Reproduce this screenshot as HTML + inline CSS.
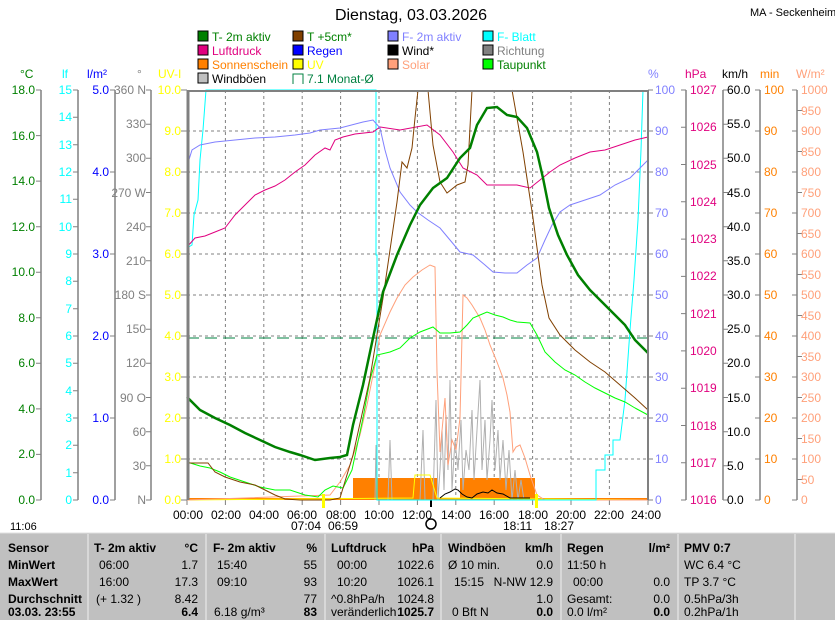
<!DOCTYPE html>
<html><head><meta charset="utf-8"><style>
body{margin:0;background:#fff;width:835px;height:620px;overflow:hidden;font-family:"Liberation Sans",sans-serif}
svg text{font-family:"Liberation Sans",sans-serif;font-size:12px}
</style></head><body>
<svg width="835" height="620" viewBox="0 0 835 620" xmlns="http://www.w3.org/2000/svg">
<rect width="835" height="620" fill="#fff"/>
<text x="411" y="20" font-size="16" text-anchor="middle" style="font-size:16px">Dienstag, 03.03.2026</text>
<text x="750" y="16" style="font-size:11px">MA - Seckenheim</text>
<!-- legend -->
<g style="font-size:12px">
<rect x="198" y="31" width="10" height="10" fill="#008000" stroke="#000"/><text x="212" y="41" fill="#008000">T- 2m aktiv</text>
<rect x="198" y="45" width="10" height="10" fill="#e0007f" stroke="#000"/><text x="212" y="55" fill="#e0007f">Luftdruck</text>
<rect x="198" y="59" width="10" height="10" fill="#ff8000" stroke="#000"/><text x="212" y="69" fill="#ff8000">Sonnenschein</text>
<rect x="198" y="73" width="10" height="10" fill="#c0c0c0" stroke="#000"/><text x="212" y="83" fill="#000">Windböen</text>
<rect x="293" y="31" width="10" height="10" fill="#804000" stroke="#000"/><text x="307" y="41" fill="#008000">T +5cm*</text>
<rect x="293" y="45" width="10" height="10" fill="#0000ff" stroke="#000"/><text x="307" y="55" fill="#0000ff">Regen</text>
<rect x="293" y="59" width="10" height="10" fill="#ffff00" stroke="#000"/><text x="307" y="69" fill="#ffff00">UV</text>
<path d="M293 84V74H303V84" fill="none" stroke="#008040"/><text x="307" y="83" fill="#008040">7.1 Monat-Ø</text>
<rect x="388" y="31" width="10" height="10" fill="#8080ff" stroke="#000"/><text x="402" y="41" fill="#8080ff">F- 2m aktiv</text>
<rect x="388" y="45" width="10" height="10" fill="#000" stroke="#000"/><text x="402" y="55" fill="#000">Wind*</text>
<rect x="388" y="59" width="10" height="10" fill="#ffa07a" stroke="#000"/><text x="402" y="69" fill="#ffa07a">Solar</text>
<rect x="483" y="31" width="10" height="10" fill="#00ffff" stroke="#000"/><text x="497" y="41" fill="#00ffff">F- Blatt</text>
<rect x="483" y="45" width="10" height="10" fill="#808080" stroke="#000"/><text x="497" y="55" fill="#808080">Richtung</text>
<rect x="483" y="59" width="10" height="10" fill="#00ff00" stroke="#000"/><text x="497" y="69" fill="#008000">Taupunkt</text>
</g>
<!-- units -->
<g style="font-size:11px">
<text x="20" y="78" fill="#008000">°C</text><text x="62" y="78" fill="#00ffff">lf</text><text x="87" y="78" fill="#0000ff">l/m²</text>
<text x="137" y="78" fill="#808080">°</text><text x="158" y="78" fill="#ffff00">UV-I</text>
<text x="648" y="78" fill="#8080ff">%</text><text x="685" y="78" fill="#e0007f">hPa</text><text x="722" y="78" fill="#000">km/h</text>
<text x="760" y="78" fill="#ff8000">min</text><text x="796" y="78" fill="#ffa07a">W/m²</text>
</g>
<!-- axis lines -->
<g stroke="#808080" stroke-width="1.5">
<line x1="41" y1="90" x2="41" y2="500"/><line x1="78" y1="90" x2="78" y2="500"/><line x1="115" y1="90" x2="115" y2="500"/><line x1="151" y1="90" x2="151" y2="500"/>
<line x1="686" y1="90" x2="686" y2="500"/><line x1="723" y1="90" x2="723" y2="500"/><line x1="760" y1="90" x2="760" y2="500"/><line x1="797" y1="90" x2="797" y2="500"/>
</g>
<g stroke="#808080">
<path d="M36 500h5M36 454.4h5M36 408.9h5M36 363.3h5M36 317.8h5M36 272.2h5M36 226.7h5M36 181.1h5M36 135.6h5M36 90h5"/>
<path d="M73 500h5M73 472.7h5M73 445.3h5M73 418h5M73 390.7h5M73 363.3h5M73 336h5M73 308.7h5M73 281.3h5M73 254h5M73 226.7h5M73 199.3h5M73 172h5M73 144.7h5M73 117.3h5M73 90h5"/>
<path d="M110 500h5M110 418h5M110 336h5M110 254h5M110 172h5M110 90h5"/>
<path d="M146 500h5M146 465.8h5M146 431.7h5M146 397.5h5M146 363.3h5M146 329.2h5M146 295h5M146 260.8h5M146 226.7h5M146 192.5h5M146 158.3h5M146 124.2h5M146 90h5"/>
<path d="M181 500h6M181 459h6M181 418h6M181 377h6M181 336h6M181 295h6M181 254h6M181 213h6M181 172h6M181 131h6M181 90h6"/>
<path d="M648 500h5M648 459h5M648 418h5M648 377h5M648 336h5M648 295h5M648 254h5M648 213h5M648 172h5M648 131h5M648 90h5"/>
<path d="M681 500h5M681 462.7h5M681 425.5h5M681 388.2h5M681 350.9h5M681 313.6h5M681 276.4h5M681 239.1h5M681 201.8h5M681 164.5h5M681 127.3h5M681 90h5"/>
<path d="M723 500h5M723 465.8h5M723 431.7h5M723 397.5h5M723 363.3h5M723 329.2h5M723 295h5M723 260.8h5M723 226.7h5M723 192.5h5M723 158.3h5M723 124.2h5M723 90h5"/>
<path d="M755 500h5M755 459h5M755 418h5M755 377h5M755 336h5M755 295h5M755 254h5M755 213h5M755 172h5M755 131h5M755 90h5"/>
<path d="M792 500h5M797 479.5h5M792 459h5M797 438.5h5M792 418h5M797 397.5h5M792 377h5M797 356.5h5M792 336h5M797 315.5h5M792 295h5M797 274.5h5M792 254h5M797 233.5h5M792 213h5M797 192.5h5M792 172h5M797 151.5h5M792 131h5M797 110.5h5M792 90h5"/>
</g>
<!-- left labels -->
<g fill="#008000" text-anchor="end">
<text x="35" y="504">0.0</text><text x="35" y="458">2.0</text><text x="35" y="413">4.0</text><text x="35" y="367">6.0</text><text x="35" y="322">8.0</text><text x="35" y="276">10.0</text><text x="35" y="231">12.0</text><text x="35" y="185">14.0</text><text x="35" y="140">16.0</text><text x="35" y="94">18.0</text>
</g>
<g fill="#00ffff" text-anchor="end">
<text x="72" y="504">0</text><text x="72" y="477">1</text><text x="72" y="449">2</text><text x="72" y="422">3</text><text x="72" y="395">4</text><text x="72" y="367">5</text><text x="72" y="340">6</text><text x="72" y="313">7</text><text x="72" y="285">8</text><text x="72" y="258">9</text><text x="72" y="231">10</text><text x="72" y="203">11</text><text x="72" y="176">12</text><text x="72" y="149">13</text><text x="72" y="121">14</text><text x="72" y="94">15</text>
</g>
<g fill="#0000ff" text-anchor="end">
<text x="109" y="504">0.0</text><text x="109" y="422">1.0</text><text x="109" y="340">2.0</text><text x="109" y="258">3.0</text><text x="109" y="176">4.0</text><text x="109" y="94">5.0</text>
</g>
<g fill="#808080" text-anchor="end">
<text x="146" y="504">N</text><text x="146" y="470">30</text><text x="146" y="436">60</text><text x="146" y="402">90 O</text><text x="146" y="367">120</text><text x="146" y="333">150</text><text x="146" y="299">180 S</text><text x="146" y="265">210</text><text x="146" y="231">240</text><text x="146" y="197">270 W</text><text x="146" y="162">300</text><text x="146" y="128">330</text><text x="146" y="94">360 N</text>
</g>
<g fill="#ffff00" text-anchor="end">
<text x="181" y="504">0.0</text><text x="181" y="463">1.0</text><text x="181" y="422">2.0</text><text x="181" y="381">3.0</text><text x="181" y="340">4.0</text><text x="181" y="299">5.0</text><text x="181" y="258">6.0</text><text x="181" y="217">7.0</text><text x="181" y="176">8.0</text><text x="181" y="135">9.0</text><text x="181" y="94">10.0</text>
</g>
<!-- right labels -->
<g fill="#8080ff">
<text x="655" y="504">0</text><text x="655" y="463">10</text><text x="655" y="422">20</text><text x="655" y="381">30</text><text x="655" y="340">40</text><text x="655" y="299">50</text><text x="655" y="258">60</text><text x="655" y="217">70</text><text x="655" y="176">80</text><text x="655" y="135">90</text><text x="655" y="94">100</text>
</g>
<g fill="#e0007f">
<text x="690" y="504">1016</text><text x="690" y="467">1017</text><text x="690" y="430">1018</text><text x="690" y="392">1019</text><text x="690" y="355">1020</text><text x="690" y="318">1021</text><text x="690" y="280">1022</text><text x="690" y="243">1023</text><text x="690" y="206">1024</text><text x="690" y="169">1025</text><text x="690" y="131">1026</text><text x="690" y="94">1027</text>
</g>
<g fill="#000">
<text x="727" y="504">0.0</text><text x="727" y="470">5.0</text><text x="727" y="436">10.0</text><text x="727" y="402">15.0</text><text x="727" y="367">20.0</text><text x="727" y="333">25.0</text><text x="727" y="299">30.0</text><text x="727" y="265">35.0</text><text x="727" y="231">40.0</text><text x="727" y="197">45.0</text><text x="727" y="162">50.0</text><text x="727" y="128">55.0</text><text x="727" y="94">60.0</text>
</g>
<g fill="#ff8000">
<text x="764" y="504">0</text><text x="764" y="463">10</text><text x="764" y="422">20</text><text x="764" y="381">30</text><text x="764" y="340">40</text><text x="764" y="299">50</text><text x="764" y="258">60</text><text x="764" y="217">70</text><text x="764" y="176">80</text><text x="764" y="135">90</text><text x="764" y="94">100</text>
</g>
<g fill="#ffa07a">
<text x="801" y="504">0</text><text x="801" y="484">50</text><text x="801" y="463">100</text><text x="801" y="443">150</text><text x="801" y="422">200</text><text x="801" y="402">250</text><text x="801" y="381">300</text><text x="801" y="361">350</text><text x="801" y="340">400</text><text x="801" y="320">450</text><text x="801" y="299">500</text><text x="801" y="279">550</text><text x="801" y="258">600</text><text x="801" y="238">650</text><text x="801" y="217">700</text><text x="801" y="197">750</text><text x="801" y="176">800</text><text x="801" y="156">850</text><text x="801" y="135">900</text><text x="801" y="115">950</text><text x="801" y="94">1000</text>
</g>
<!-- grid -->
<g stroke="#808080" stroke-dasharray="3,3">
<path d="M187 459H648M187 418H648M187 377H648M187 336H648M187 295H648M187 254H648M187 213H648M187 172H648M187 131H648"/>
<path d="M225.4 90V500M263.8 90V500M302.2 90V500M340.6 90V500M379 90V500M417.4 90V500M455.8 90V500M494.2 90V500M532.6 90V500M571 90V500M609.4 90V500"/>
</g>
<g stroke="#808080"><path d="M187 500v5M225.4 500v5M263.8 500v5M302.2 500v5M340.6 500v5M379 500v5M417.4 500v5M455.8 500v5M494.2 500v5M532.6 500v5M571 500v5M609.4 500v5M648 500v5"/></g>
<line x1="187" y1="338" x2="648" y2="338" stroke="#008040" stroke-dasharray="12,6"/>
<!-- sunshine -->
<rect x="353" y="478" width="84" height="22" fill="#ff8000"/>
<rect x="460" y="478" width="75" height="22" fill="#ff8000"/>
<line x1="187" y1="499" x2="648" y2="499" stroke="#ff8000" stroke-width="2"/>
<!-- gusts -->
<polyline fill="none" stroke="#b0b0b0" points="375,500 376,445 377,500 388,500 390,440 392,500 420,500 423,430 425,500 433,500 436,400 438,500 440,470 442,430 444,490 446,415 448,470 450,380 452,490 455,440 458,470 461,420 463,490 466,450 469,470 472,410 474,480 477,430 480,380 482,470 485,420 487,480 490,440 492,400 495,470 498,430 500,480 503,440 506,490 509,450 512,500 515,470 518,500 521,480 524,500"/>
<!-- UV -->
<polyline fill="none" stroke="#ffff00" points="187,500 413,498 415,475 430,475 437,498 648,500"/>
<!-- wind -->
<polyline fill="none" stroke="#000" points="440,498 445,494 450,492 455,489 458,490 462,494 467,497 472,498 477,494 483,492 488,493 492,490 497,493 503,494 510,498 530,498"/>
<line x1="431" y1="500" x2="431" y2="507" stroke="#000" stroke-width="2"/>
<!-- solar -->
<polyline fill="none" stroke="#ffa07a" points="187,500 330,495 340,482 350,465 360,435 367,405 375,365 380,335 390,312 397,298 405,285 413,277 422,270 430,265 435,267 437,372 440,452 443,420 445,398 448,465 452,440 456,450 460,418 463,295 467,298 472,305 480,318 485,330 490,345 497,362 503,378 507,395 510,412 513,452 516,447 520,445 525,458 530,475 537,495 545,500 648,500"/>
<!-- F-Blatt -->
<polyline fill="none" stroke="#00ffff" points="187,248 192,245 194,215 198,200 200,160 203,130 206,90 376,90 376,255 377,255 377,500 596,500 596,470 605,470 605,455 613,455 613,440 620,440 625,400 630,330 634,280 638,220 641,150 643,90"/>
<!-- dewpoint -->
<polyline fill="none" stroke="#00ff00" points="187,462 200,466 210,468 220,472 230,477 245,482 260,487 275,490 290,490 305,495 318,497 325,490 333,486 343,488 352,470 363,418 370,380 377,355 390,352 400,348 410,338 420,332 433,327 440,333 450,333 460,332 467,325 473,318 480,315 487,312 495,315 503,317 510,320 517,322 530,323 537,335 545,352 555,362 565,370 575,375 585,382 595,388 605,393 615,398 625,402 635,408 648,415"/>
<!-- pressure -->
<polyline fill="none" stroke="#e0007f" points="187,247 195,238 205,236 215,232 225,228 235,215 245,205 255,195 265,190 275,186 285,180 295,172 305,165 315,155 325,148 330,150 335,140 343,137 355,134 373,132 380,127 400,130 427,125 440,135 453,152 463,168 477,175 487,185 500,185 517,185 530,188 540,180 550,172 560,165 575,158 590,152 605,150 620,145 635,140 648,137"/>
<!-- humidity -->
<polyline fill="none" stroke="#8080ff" points="187,166 192,150 200,145 215,142 235,140 255,138 275,137 295,135 310,133 320,130 340,128 363,122 373,120 380,128 385,150 390,168 400,192 410,205 417,212 428,220 440,228 450,240 460,252 473,255 485,265 493,272 505,273 517,273 527,265 537,258 545,240 552,225 560,212 570,205 585,200 600,195 615,185 630,178 648,160"/>
<!-- T+5cm -->
<polyline fill="none" stroke="#804000" points="187,463 208,463 215,472 225,477 240,482 255,485 265,490 275,495 285,499 300,500 330,500 340,498 353,455 370,378 383,298 397,202 402,162 407,168 412,148 415,118 418,90"/>
<polyline fill="none" stroke="#804000" points="428,90 433,145 440,182 447,193 457,185 465,182 468,165 472,90"/>
<polyline fill="none" stroke="#804000" points="512,90 523,152 533,218 542,285 549,318 560,335 575,350 590,362 605,372 620,385 635,398 648,410"/>
<!-- T-2m -->
<polyline fill="none" stroke="#008000" stroke-width="2.5" points="187,397 200,410 215,418 230,425 245,433 260,440 275,447 290,452 300,455 315,460 330,458 340,457 347,455 353,425 363,385 373,338 383,292 397,255 410,225 420,205 433,188 447,178 460,158 470,148 477,125 487,108 497,107 507,115 517,117 527,128 537,152 543,178 549,208 558,235 567,255 578,275 590,290 603,303 615,315 625,325 635,340 648,353"/>
<!-- frame -->
<line x1="187" y1="91" x2="648" y2="91" stroke="#808080" stroke-width="2"/>
<line x1="188" y1="90" x2="188" y2="500" stroke="#808080" stroke-width="3"/>
<line x1="648" y1="90" x2="648" y2="500" stroke="#808080" stroke-width="2"/>
<!-- time labels -->
<g text-anchor="middle" fill="#000">
<text x="188" y="519">00:00</text><text x="226" y="519">02:00</text><text x="264" y="519">04:00</text><text x="302" y="519">06:00</text><text x="341" y="519">08:00</text><text x="379" y="519">10:00</text><text x="417" y="519">12:00</text><text x="456" y="519">14:00</text><text x="494" y="519">16:00</text><text x="533" y="519">18:00</text><text x="571" y="519">20:00</text><text x="609" y="519">22:00</text><text x="646" y="519">24:00</text>
</g>
<text x="291" y="530">07:04</text><text x="328" y="530">06:59</text><text x="503" y="530">18:11</text><text x="544" y="530">18:27</text>
<rect x="322" y="494" width="3" height="14" fill="#ffff00"/><rect x="535" y="494" width="3" height="14" fill="#ffff00"/>
<circle cx="431" cy="524" r="5" fill="none" stroke="#000" stroke-width="1.5"/>
<text x="10" y="530" style="font-size:11px">11:06</text>
<!-- table -->
<rect x="0" y="533" width="835" height="87" fill="#c0c0c0"/>
<line x1="0" y1="533" x2="835" y2="533" stroke="#e0e0e0"/>
<g stroke="#f0f0f0"><path d="M88 534V620M206 534V620M325 534V620M441 534V620M561 534V620M678 534V620M795 534V620"/></g>
<g style="font-size:11px" fill="#000">
<g font-weight="bold"><text x="8" y="552">Sensor</text><text x="8" y="569">MinWert</text><text x="8" y="586">MaxWert</text><text x="8" y="603">Durchschnitt</text><text x="8" y="616">03.03. 23:55</text>
<text x="94" y="552">T- 2m aktiv</text><text x="213" y="552">F- 2m aktiv</text><text x="331" y="552">Luftdruck</text><text x="448" y="552">Windböen</text><text x="567" y="552">Regen</text><text x="684" y="552">PMV 0:7</text></g>
<g text-anchor="end" font-weight="bold"><text x="198" y="552">°C</text><text x="317" y="552">%</text><text x="434" y="552">hPa</text><text x="553" y="552">km/h</text><text x="670" y="552">l/m²</text>
<text x="198" y="616">6.4</text><text x="317" y="616">83</text><text x="434" y="616">1025.7</text><text x="553" y="616">0.0</text><text x="670" y="616">0.0</text></g>
<text x="99" y="569">06:00</text><text x="99" y="586">16:00</text><text x="96" y="603">(+ 1.32 )</text>
<text x="217" y="569">15:40</text><text x="217" y="586">09:10</text><text x="214" y="616">6.18 g/m³</text>
<text x="337" y="569">00:00</text><text x="337" y="586">10:20</text><text x="331" y="603">^0.8hPa/h</text><text x="331" y="616">veränderlich</text>
<text x="448" y="569">Ø 10 min.</text><text x="454" y="586">15:15</text><text x="452" y="616">0 Bft N</text>
<text x="567" y="569">11:50 h</text><text x="573" y="586">00:00</text><text x="567" y="603">Gesamt:</text><text x="567" y="616">0.0 l/m²</text>
<text x="684" y="569">WC 6.4 °C</text><text x="684" y="586">TP 3.7 °C</text><text x="684" y="603">0.5hPa/3h</text><text x="684" y="616">0.2hPa/1h</text>
<g text-anchor="end"><text x="198" y="569">1.7</text><text x="198" y="586">17.3</text><text x="198" y="603">8.42</text>
<text x="317" y="569">55</text><text x="317" y="586">93</text><text x="317" y="603">77</text>
<text x="434" y="569">1022.6</text><text x="434" y="586">1026.1</text><text x="434" y="603">1024.8</text>
<text x="553" y="569">0.0</text><text x="553" y="586">N-NW 12.9</text><text x="553" y="603">1.0</text>
<text x="670" y="586">0.0</text><text x="670" y="603">0.0</text></g>
</g>
</svg>
</body></html>
